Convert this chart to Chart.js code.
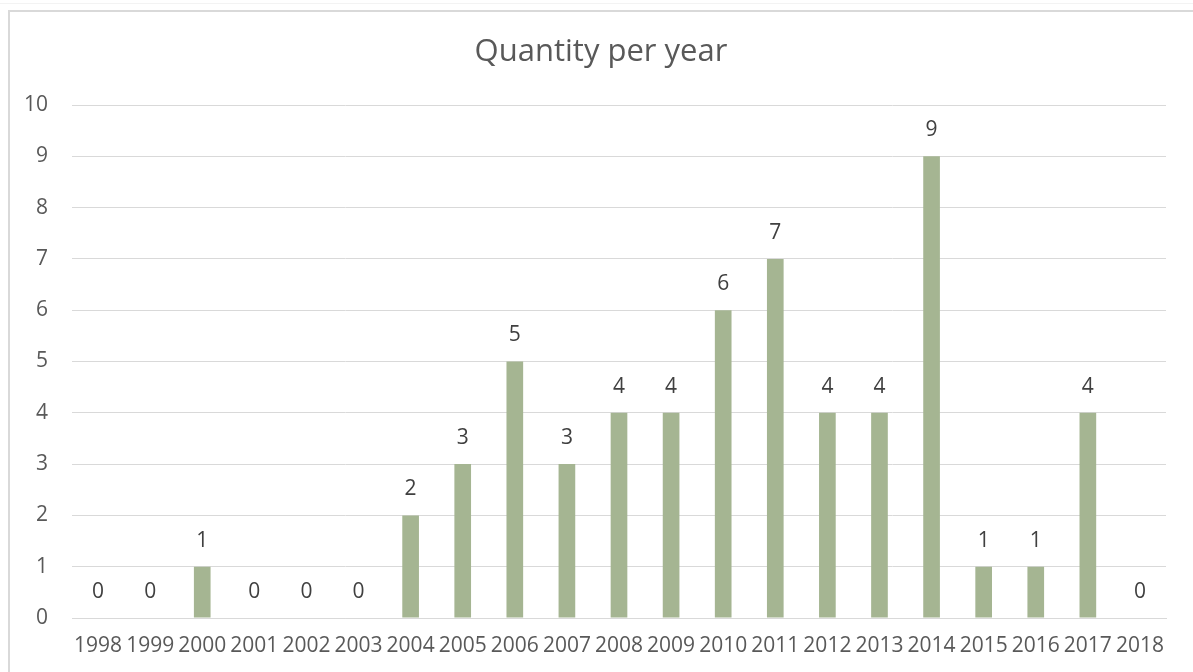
<!DOCTYPE html>
<html>
<head>
<meta charset="utf-8">
<script src="https://cdn.jsdelivr.net/npm/chart.js@4"></script>
<style>
  html, body { margin: 0; padding: 0; background: #fff; }
  body { width: 1193px; height: 672px; position: relative; overflow: hidden; }
  .top-rule { position: absolute; left: 0; top: 3px; width: 1193px; height: 1px; background: #f3f3f3; }
  .frame { position: absolute; left: 8px; top: 10px; width: 1300px; height: 800px; border: 1px solid #d9d9d9; border-width: 2px 0 0 2px; box-sizing: border-box; }
  #chart { position: absolute; left: 0; top: 0; }
</style>
</head>
<body>
<div class="top-rule"></div>
<div class="frame"></div>
<canvas id="chart" width="1193" height="672"></canvas>
<script>
const chartTitle = 'Quantity per year';
const years = ['1998', '1999', '2000', '2001', '2002', '2003', '2004', '2005', '2006', '2007', '2008',
  '2009', '2010', '2011', '2012', '2013', '2014', '2015', '2016', '2017', '2018'];
const quantity = [0, 0, 1, 0, 0, 0, 2, 3, 5, 3, 4, 4, 6, 7, 4, 4, 9, 1, 1, 4, 0];
const yTicks = [0, 1, 2, 3, 4, 5, 6, 7, 8, 9, 10];

const FONT = "'Open Sans', 'Noto Sans', sans-serif";
const TEXT = '#595959';

// title is centred on the whole frame, not on the plot
const frameTitle = {
  id: 'frameTitle',
  afterDraw(chart) {
    const { ctx } = chart;
    ctx.save();
    ctx.font = `31px ${FONT}`;
    ctx.fillStyle = TEXT;
    ctx.textAlign = 'center';
    ctx.textBaseline = 'middle';
    ctx.fillText(chartTitle, 601, 52);
    ctx.restore();
  }
};

// value labels above each bar (zeros sit just above the baseline)
const valueLabels = {
  id: 'valueLabels',
  afterDatasetsDraw(chart) {
    const { ctx } = chart;
    const meta = chart.getDatasetMeta(0);
    ctx.save();
    ctx.font = `21px ${FONT}`;
    ctx.fillStyle = '#404040';
    ctx.textAlign = 'center';
    ctx.textBaseline = 'middle';
    meta.data.forEach((bar, i) => {
      ctx.fillText(String(quantity[i]), bar.x, bar.y - 26);
    });
    ctx.restore();
  }
};

new Chart(document.getElementById('chart'), {
  type: 'bar',
  data: {
    labels: years,
    datasets: [{
      data: quantity,
      backgroundColor: '#a5b592',
      borderWidth: 0,
      barPercentage: 0.32,
      categoryPercentage: 1
    }]
  },
  options: {
    responsive: false,
    animation: false,
    layout: { padding: { top: 105, right: 27, bottom: 0, left: 0 } },
    plugins: {
      legend: { display: false },
      tooltip: { enabled: false },
      title: { display: false }
    },
    scales: {
      x: {
        grid: { display: false },
        border: { display: true, color: '#d9d9d9', width: 1 },
        ticks: { color: TEXT, font: { family: FONT, size: 21 }, padding: 7, maxRotation: 0, autoSkip: false },
        afterFit(scale) { scale.height = 54; }
      },
      y: {
        min: 0,
        max: 10,
        afterBuildTicks(scale) { scale.ticks = yTicks.map(v => ({ value: v })); },
        grid: { color: '#d9d9d9', lineWidth: 1, drawTicks: false },
        border: { display: false },
        ticks: { color: TEXT, font: { family: FONT, size: 21 }, padding: 24 },
        afterFit(scale) { scale.width = 72; }
      }
    }
  },
  plugins: [valueLabels, frameTitle]
});
</script>
</body>
</html>
